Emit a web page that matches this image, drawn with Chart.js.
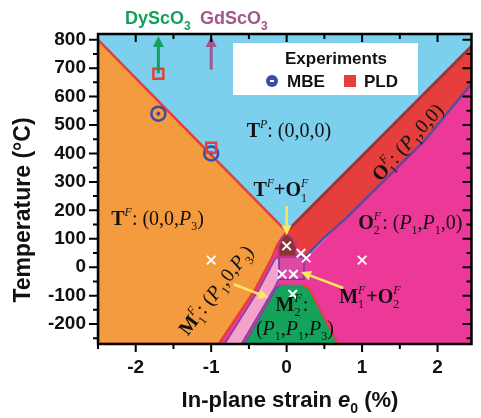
<!DOCTYPE html>
<html>
<head>
<meta charset="utf-8">
<script src="https://cdn.jsdelivr.net/npm/chart.js@4.4.1/dist/chart.umd.min.js"></script>
<style>
  html, body { margin: 0; padding: 0; background: #fff; }
  #wrap { width: 481px; height: 418px; }
</style>
</head>
<body>
<div id="wrap"><canvas id="phaseChart" width="481" height="418"></canvas></div>
<script>
// axis ranges and tick labels
const strainMin = -2.5, strainMax = 2.45;
const tempMin = -270, tempMax = 820;
const strainTicks = [-2, -1, 0, 1, 2];
const tempTicks = [800, 700, 600, 500, 400, 300, 200, 100, 0, -100, -200];

// phase regions as [strain %, temperature C]
const phaseTP = [[-2.5, -270], [-2.5, 820], [2.45, 820], [2.45, -270]];
const phaseTF = [[-2.5, -270], [-2.5, 800], [0, 125], [-0.12, 80], [-0.2, 30], [-0.3, -20], [-0.42, -80], [-0.9, -270]];
const phaseO2 = [[-0.9, -270], [-0.42, -80], [-0.3, -20], [-0.2, 30], [-0.12, 80], [0, 125], [0.3, 40], [2.45, 645], [2.45, -270]];
const edgeO1upper = [[0, 125], [2.45, 777]];
const edgeO1lower = [[0.24, 34], [0.5, 105], [0.8, 175], [1.83, 446], [2.45, 645]];
const phaseO1 = [[0, 125], [2.45, 777], [2.45, 645], [1.83, 446], [0.8, 175], [0.5, 105], [0.26, 36], [0.12, 70]];
const phaseM1 = [[-0.82, -270], [-0.37, -80], [-0.25, -20], [-0.15, 30], [-0.1, 36], [-0.1, -40], [-0.16, -72], [-0.6, -270]];
const phaseM2 = [[-0.56, -270], [-0.14, -75], [-0.08, -62], [0.22, -62], [0.3, -76], [0.68, -270]];
const edgeM2left = [[-0.56, -270], [-0.14, -75], [-0.08, -62]];
const edgeM2right = [[0.22, -62], [0.3, -76], [0.68, -270]];
const phaseM1O2 = [[-0.1, -42], [0.23, -42], [0.23, 36], [-0.1, 36]];
const phaseTFO1 = [[0, 120], [0.08, 102], [0.13, 72], [0.13, 38], [-0.11, 38], [-0.11, 72], [-0.07, 102]];

// simulated states and experiments
const simStrain = [-1.0, 1.0, 0.0, 0.19, 0.26, -0.06, 0.09, 0.08];
const simTemp = [25, 25, 75, 49, 32, -25, -25, -95];
const mbeStrain = [-1.7, -1.0];
const mbeTemp = [540, 400];
const pldStrain = [-1.7, -1.0];
const pldTemp = [680, 420];

// substrates
const substrateNames = ['DyScO', 'GdScO'];
const substrateStrain = [-1.7, -1.0];
const substrateFrom = [682, 695];
const substrateColors = ['#14a05a', '#a0578c'];

const SERIF = '"Liberation Serif", "Times New Roman", serif';
const SANS = '"Liberation Sans", Arial, sans-serif';

function pts(list) {
    return list.map(p => ({ x: p[0], y: p[1] }));
}

function region(list, fillColor, borderColor, borderWidth) {
    return {
        data: pts(list.concat([list[0]])),
        showLine: true,
        fill: 'shape',
        backgroundColor: fillColor,
        borderColor: borderColor || 'rgba(0,0,0,0)',
        borderWidth: borderWidth || 0,
        pointRadius: 0,
        tension: 0
    };
}

function edge(list, color, width) {
    return {
        data: pts(list),
        showLine: true,
        fill: false,
        borderColor: color,
        borderWidth: width,
        pointRadius: 0,
        tension: 0
    };
}

function markers(xs, ys, opts) {
    return Object.assign({
        data: xs.map((x, i) => ({ x: x, y: ys[i] })),
        showLine: false
    }, opts);
}

// paint order: first = bottom
const layers = [
    region(phaseTP, '#7dcfee'),
    region(phaseO2, '#ec3897'),
    region(phaseTF, '#f49a3f', '#e63e3a', 2.5),
    region(phaseO1, '#e53e3d'),
    edge(edgeO1upper, '#a23436', 3),
    edge(edgeO1lower, '#5a4aa2', 2.5),
    region(phaseM1, '#f4a2cb', '#7a44a6', 1.5),
    region(phaseM2, '#14a35a'),
    edge(edgeM2left, '#7a44a6', 1.5),
    edge(edgeM2right, '#e63e3a', 2),
    region(phaseM1O2, '#dd4aa6', '#6a3f9f', 1.5),
    region(phaseTFO1, '#8a3535', '#c8338a', 2),
    markers(simStrain, simTemp, { pointStyle: 'crossRot', pointRadius: 6, borderColor: '#ffffff', borderWidth: 2 }),
    markers(mbeStrain, mbeTemp, { pointStyle: 'circle', pointRadius: 7, borderColor: '#3d4aa8', backgroundColor: 'rgba(0,0,0,0)', borderWidth: 2.5 }),
    markers(mbeStrain, mbeTemp, { pointStyle: 'circle', pointRadius: 1.6, borderColor: '#3d4aa8', backgroundColor: '#3d4aa8', borderWidth: 1 }),
    markers(pldStrain, pldTemp, { pointStyle: 'rect', pointRadius: 7, borderColor: '#e63e3a', backgroundColor: 'rgba(0,0,0,0)', borderWidth: 2.5 })
];
layers.forEach((d, i) => { d.order = 100 - i; });

// annotation text, positions in data coords
const labels = [
    { e: 0.03, T: 480, rot: 0, parts: [['T', 'b'], ['P', 'i', 'sup'], [': (0,0,0)', 'r']] },
    { e: -1.71, T: 173, rot: 0, parts: [['T', 'b'], ['F', 'i', 'sup'], [': (0,0,', 'r'], ['P', 'i'], ['3', 'r', 'sub'], [')', 'r']] },
    { e: -0.07, T: 272, rot: 0, parts: [['T', 'b'], ['F', 'i', 'sup'], ['+O', 'b'], [['F', '1'], '', 'both']] },
    { e: 1.64, T: 159, rot: 0, parts: [['O', 'b'], [['F', '2'], '', 'both'], [': (', 'r'], ['P', 'i'], ['1', 'r', 'sub'], [',', 'r'], ['P', 'i'], ['1', 'r', 'sub'], [',0)', 'r']] },
    { e: 1.6, T: 440, rot: -48, parts: [['O', 'b'], [['F', '1'], '', 'both'], [': (', 'r'], ['P', 'i'], ['1', 'r', 'sub'], [',0,0)', 'r']] },
    { e: -0.94, T: -80, rot: -52, parts: [['M', 'b'], [['F', '1'], '', 'both'], [': (', 'r'], ['P', 'i'], ['1', 'r', 'sub'], [',0,', 'r'], ['P', 'i'], ['3', 'r', 'sub'], [')', 'r']] },
    { e: 0.07, T: -130, rot: 0, parts: [['M', 'b'], [['F', '2'], '', 'both'], [':', 'r']] },
    { e: 0.11, T: -214, rot: 0, parts: [['(', 'r'], ['P', 'i'], ['1', 'r', 'sub'], [',', 'r'], ['P', 'i'], ['1', 'r', 'sub'], [',', 'r'], ['P', 'i'], ['3', 'r', 'sub'], [')', 'r']] },
    { e: 1.11, T: -101, rot: 0, parts: [['M', 'b'], [['F', '1'], '', 'both'], ['+O', 'b'], [['F', '2'], '', 'both']] }
];

// yellow pointer arrows [from, to]
const pointers = [
    [[0, 215], [0, 112]],
    [[-0.7, -60], [-0.24, -107]],
    [[0.75, -73], [0.19, -17]]
];

function fontFor(style, size) {
    const b = style.indexOf('b') >= 0 ? 'bold ' : '';
    const it = style.indexOf('i') >= 0 ? 'italic ' : '';
    return it + b + size + 'px ' + SERIF;
}

function drawRich(ctx, parts, cx, cy, size) {
    const small = Math.round(size * 0.62);
    const widths = parts.map(p => {
        if (p[2] === 'both') {
            ctx.font = fontFor('i', small);
            const a = ctx.measureText(p[0][0]).width;
            ctx.font = fontFor('r', small);
            return Math.max(a, ctx.measureText(p[0][1]).width) + 1;
        }
        ctx.font = fontFor(p[1], p[2] ? small : size);
        return ctx.measureText(p[0]).width;
    });
    const total = widths.reduce((a, b) => a + b, 0);
    let x = cx - total / 2;
    const base = cy + size * 0.33;
    ctx.textAlign = 'left';
    ctx.textBaseline = 'alphabetic';
    parts.forEach((p, i) => {
        if (p[2] === 'both') {
            ctx.font = fontFor('i', small);
            ctx.fillText(p[0][0], x, base - size * 0.45);
            ctx.font = fontFor('r', small);
            ctx.fillText(p[0][1], x, base + size * 0.28);
        } else if (p[2] === 'sup') {
            ctx.font = fontFor(p[1], small);
            ctx.fillText(p[0], x, base - size * 0.45);
        } else if (p[2] === 'sub') {
            ctx.font = fontFor(p[1], small);
            ctx.fillText(p[0], x, base + size * 0.28);
        } else {
            ctx.font = fontFor(p[1], size);
            ctx.fillText(p[0], x, base);
        }
        x += widths[i];
    });
}

function arrow(ctx, x1, y1, x2, y2, color, width, head) {
    const ang = Math.atan2(y2 - y1, x2 - x1);
    const bx = x2 - Math.cos(ang) * head;
    const by = y2 - Math.sin(ang) * head;
    ctx.strokeStyle = color;
    ctx.fillStyle = color;
    ctx.lineWidth = width;
    ctx.beginPath();
    ctx.moveTo(x1, y1);
    ctx.lineTo(bx, by);
    ctx.stroke();
    ctx.beginPath();
    ctx.moveTo(x2, y2);
    ctx.lineTo(bx + Math.sin(ang) * head * 0.5, by - Math.cos(ang) * head * 0.5);
    ctx.lineTo(bx - Math.sin(ang) * head * 0.5, by + Math.cos(ang) * head * 0.5);
    ctx.closePath();
    ctx.fill();
}

const decorPlugin = {
    id: 'decor',
    afterDatasetsDraw(chart) {
        const ctx = chart.ctx;
        const xs = chart.scales.x, ys = chart.scales.y;
        ctx.save();
        // pointer arrows
        pointers.forEach(p => {
            arrow(ctx, xs.getPixelForValue(p[0][0]), ys.getPixelForValue(p[0][1]),
                xs.getPixelForValue(p[1][0]), ys.getPixelForValue(p[1][1]), '#f8e95e', 2.5, 10);
        });
        // phase labels
        labels.forEach(l => {
            ctx.save();
            ctx.translate(xs.getPixelForValue(l.e), ys.getPixelForValue(l.T));
            ctx.rotate(l.rot * Math.PI / 180);
            ctx.fillStyle = '#111';
            drawRich(ctx, l.parts, 0, 0, 20);
            ctx.restore();
        });
        // legend box
        ctx.fillStyle = '#ffffff';
        ctx.fillRect(233, 43, 185, 52);
        ctx.fillStyle = '#111';
        ctx.font = 'bold 17px ' + SANS;
        ctx.textAlign = 'center';
        ctx.textBaseline = 'middle';
        ctx.fillText('Experiments', 336, 59);
        ctx.beginPath();
        ctx.arc(272, 81, 6, 0, Math.PI * 2);
        ctx.fillStyle = '#3d4aa8';
        ctx.fill();
        ctx.fillStyle = '#ffffff';
        ctx.fillRect(270, 80, 4, 2);
        ctx.fillStyle = '#e63e3a';
        ctx.fillRect(344, 75, 12, 12);
        ctx.fillStyle = '#111';
        ctx.textAlign = 'left';
        ctx.fillText('MBE', 287, 82);
        ctx.fillText('PLD', 364, 82);
        ctx.restore();
    },
    afterDraw(chart) {
        const ctx = chart.ctx;
        const a = chart.chartArea;
        const xs = chart.scales.x, ys = chart.scales.y;
        ctx.save();
        // substrate arrows and names
        substrateStrain.forEach((s, i) => {
            const px = xs.getPixelForValue(s);
            arrow(ctx, px, ys.getPixelForValue(substrateFrom[i]), px, a.top + 2, substrateColors[i], 3, 11);
            ctx.fillStyle = substrateColors[i];
            ctx.font = 'bold 18px ' + SANS;
            ctx.textAlign = 'left';
            ctx.textBaseline = 'alphabetic';
            const w = ctx.measureText(substrateNames[i]).width;
            const x0 = (i === 0 ? 125 : 200);
            ctx.fillText(substrateNames[i], x0, 24);
            ctx.font = 'bold 12px ' + SANS;
            ctx.fillText('3', x0 + w, 30);
        });
        // frame
        ctx.strokeStyle = '#000';
        ctx.lineWidth = 2.5;
        ctx.strokeRect(a.left, a.top, a.right - a.left, a.bottom - a.top);
        // ticks: outward on left and bottom, inward on top and right
        ctx.lineWidth = 2;
        ctx.beginPath();
        for (let k = -5; k <= 4; k++) {
            const v = k * 0.5;
            const px = xs.getPixelForValue(v);
            const major = k % 2 === 0;
            const len = major ? 8 : 5;
            ctx.moveTo(px, a.bottom); ctx.lineTo(px, a.bottom + len);
            ctx.moveTo(px, a.top); ctx.lineTo(px, a.top + len);
        }
        for (let v = -250; v <= 800; v += 50) {
            const py = ys.getPixelForValue(v);
            const major = v % 100 === 0;
            const len = major ? 9 : 5;
            ctx.moveTo(a.left, py); ctx.lineTo(a.left - len, py);
            ctx.moveTo(a.right, py); ctx.lineTo(a.right - len, py);
        }
        ctx.stroke();
        // axis titles
        ctx.fillStyle = '#111';
        ctx.font = 'bold 23px ' + SANS;
        ctx.textBaseline = 'middle';
        ctx.textAlign = 'center';
        ctx.save();
        ctx.translate(24, 210);
        ctx.rotate(-Math.PI / 2);
        ctx.fillText('Temperature (\u00B0C)', 0, 0);
        ctx.restore();
        const t1 = 'In-plane strain ', t3 = ' (%)';
        ctx.font = 'bold 22px ' + SANS;
        const w1 = ctx.measureText(t1).width, w3 = ctx.measureText(t3).width;
        ctx.font = 'italic bold 22px ' + SANS;
        const w2 = ctx.measureText('e').width;
        ctx.font = 'bold 14px ' + SANS;
        const wsub = ctx.measureText('0').width;
        let x = 290 - (w1 + w2 + wsub + w3) / 2;
        ctx.textAlign = 'left';
        ctx.textBaseline = 'alphabetic';
        ctx.font = 'bold 22px ' + SANS;
        ctx.fillText(t1, x, 407); x += w1;
        ctx.font = 'italic bold 22px ' + SANS;
        ctx.fillText('e', x, 407); x += w2;
        ctx.font = 'bold 14px ' + SANS;
        ctx.fillText('0', x, 413); x += wsub;
        ctx.font = 'bold 22px ' + SANS;
        ctx.fillText(t3, x, 407);
        ctx.restore();
    }
};

const ctx = document.getElementById('phaseChart').getContext('2d');
new Chart(ctx, {
    type: 'scatter',
    data: { datasets: layers },
    options: {
        responsive: false,
        animation: false,
        events: [],
        layout: { padding: { top: 34, right: 3, left: 0, bottom: 0 } },
        plugins: { legend: { display: false }, tooltip: { enabled: false } },
        scales: {
            x: {
                type: 'linear',
                min: strainMin,
                max: strainMax,
                grid: { display: false, drawTicks: false, tickLength: 0 },
                border: { display: false },
                afterFit: s => { s.height = 74; },
                afterBuildTicks: s => { s.ticks = strainTicks.map(v => ({ value: v })); },
                ticks: {
                    padding: 12,
                    color: '#111',
                    font: { family: SANS, weight: 'bold', size: 19 },
                    callback: v => String(v)
                }
            },
            y: {
                type: 'linear',
                min: tempMin,
                max: tempMax,
                grid: { display: false, drawTicks: false, tickLength: 0 },
                border: { display: false },
                afterFit: s => { s.width = 98; },
                afterBuildTicks: s => { s.ticks = tempTicks.map(v => ({ value: v })); },
                ticks: {
                    padding: 12,
                    color: '#111',
                    font: { family: SANS, weight: 'bold', size: 19 },
                    callback: v => String(v)
                }
            }
        }
    },
    plugins: [decorPlugin]
});
</script>
</body>
</html>
